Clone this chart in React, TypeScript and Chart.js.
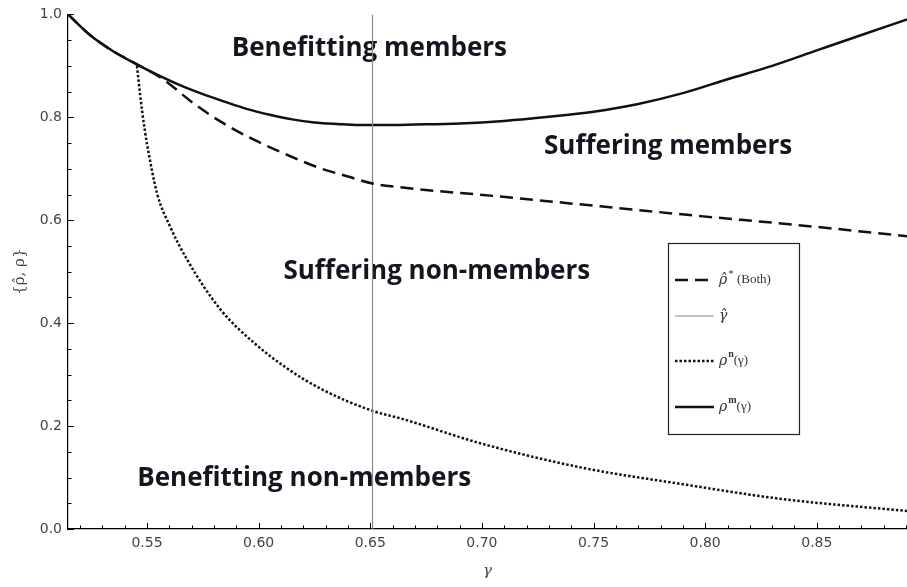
import React, { useEffect, useRef } from "react";
import { Chart, registerables } from "chart.js";

Chart.register(...registerables);

// ---- data ----
const gammaM = [0.5146, 0.525, 0.535, 0.545, 0.555, 0.565, 0.575, 0.585, 0.595, 0.605, 0.615, 0.625, 0.635, 0.645, 0.655, 0.67, 0.69, 0.71, 0.73, 0.75, 0.77, 0.79, 0.81, 0.83, 0.85, 0.87, 0.8904];
const rhoM = [1.0, 0.958, 0.928, 0.904, 0.882, 0.862, 0.845, 0.83, 0.816, 0.805, 0.796, 0.79, 0.787, 0.785, 0.785, 0.786, 0.788, 0.793, 0.801, 0.811, 0.826, 0.847, 0.874, 0.9, 0.93, 0.96, 0.99];

const gammaStar = [0.5146, 0.525, 0.535, 0.545, 0.5572, 0.57, 0.5828, 0.5976, 0.6128, 0.6276, 0.64, 0.6514, 0.6635, 0.7083, 0.753, 0.798, 0.843, 0.8904];
const rhoStar = [1.0, 0.958, 0.928, 0.904, 0.874, 0.83, 0.792, 0.757, 0.727, 0.701, 0.685, 0.671, 0.664, 0.646, 0.627, 0.608, 0.59, 0.569];

const gammaN = [0.5455, 0.5469, 0.5478, 0.549, 0.55, 0.5545, 0.5603, 0.568, 0.5828, 0.5976, 0.6128, 0.6276, 0.6514, 0.6635, 0.6998, 0.745, 0.79, 0.835, 0.8904];
const rhoN = [0.9, 0.844, 0.812, 0.775, 0.748, 0.652, 0.588, 0.523, 0.427, 0.363, 0.312, 0.273, 0.229, 0.215, 0.166, 0.119, 0.087, 0.058, 0.035];

const gammaHat = 0.651;
const gammaHatSpan = [0, 1];

const xRange = [0.5146, 0.8904];
const yRange = [0, 1];
const xTicks = [0.55, 0.6, 0.65, 0.7, 0.75, 0.8, 0.85];
const yTicks = [0, 0.2, 0.4, 0.6, 0.8, 1.0];
const xMinorStep = 0.01;
const yMinorStep = 0.05;

const regionLabels = ["Benefitting members", "Suffering members", "Suffering non-members", "Benefitting non-members"];
const regionAnchors = [
  [0.6496, 0.934],
  [0.7834, 0.743],
  [0.6798, 0.5],
  [0.6204, 0.097],
];

// legend entries: [text, style] parts
const legendParts: [string, string][][] = [
  [["ρ̂", "i"], ["*", "sup"], [" (Both)", "n"]],
  [["γ̂", "i"]],
  [["ρ", "i"], ["n", "supf"], ["(γ)", "n"]],
  [["ρ", "i"], ["m", "supf"], ["(γ)", "n"]],
];

const toXY = (xs: number[], ys: number[]) => xs.map((x, i) => ({ x, y: ys[i] }));

export default function App() {
  const ref = useRef<HTMLCanvasElement | null>(null);

  useEffect(() => {
    const canvas = ref.current;
    if (!canvas) return;

    const inwardTicks = {
      id: "inwardTicks",
      afterDraw(chart: any) {
        const { ctx, chartArea } = chart;
        const xs = chart.scales.x;
        const ys = chart.scales.y;
        ctx.save();
        ctx.strokeStyle = "#000";
        ctx.lineWidth = 1;
        ctx.beginPath();
        const isMajor = (v: number, arr: number[]) => arr.some((t) => Math.abs(t - v) < 1e-6);
        for (let k = Math.ceil(xRange[0] / xMinorStep); k * xMinorStep <= xRange[1] + 1e-9; k++) {
          const v = +(k * xMinorStep).toFixed(4);
          const px = Math.round(xs.getPixelForValue(v)) + 0.5;
          const len = isMajor(v, xTicks) ? 6 : 3.5;
          ctx.moveTo(px, chartArea.bottom);
          ctx.lineTo(px, chartArea.bottom - len);
        }
        for (let k = 0; k * yMinorStep <= yRange[1] + 1e-9; k++) {
          const v = +(k * yMinorStep).toFixed(4);
          const py = Math.round(ys.getPixelForValue(v)) + 0.5;
          const len = isMajor(v, yTicks) ? 6 : 3.5;
          ctx.moveTo(chartArea.left, py);
          ctx.lineTo(chartArea.left + len, py);
        }
        ctx.stroke();
        ctx.restore();
      },
    };

    const regionText = {
      id: "regionText",
      beforeDatasetsDraw(chart: any) {
        const { ctx } = chart;
        const xs = chart.scales.x;
        const ys = chart.scales.y;
        ctx.save();
        ctx.font = "bold 26px 'Open Sans'";
        ctx.fillStyle = "#15151f";
        ctx.textAlign = "center";
        ctx.textBaseline = "middle";
        regionLabels.forEach((t, i) => {
          ctx.fillText(t, xs.getPixelForValue(regionAnchors[i][0]), ys.getPixelForValue(regionAnchors[i][1]));
        });
        ctx.restore();
      },
    };

    const boxLegend = {
      id: "boxLegend",
      afterDraw(chart: any) {
        const { ctx } = chart;
        const bx = 668, by = 243, bw = 131, bh = 191;
        const rows = [37, 73, 118, 164];
        const order = [0, 1, 2, 3];
        ctx.save();
        ctx.fillStyle = "#fff";
        ctx.fillRect(bx, by, bw, bh);
        ctx.strokeStyle = "#222";
        ctx.lineWidth = 1.2;
        ctx.strokeRect(bx + 0.5, by + 0.5, bw, bh);
        rows.forEach((dy, i) => {
          const ds = chart.data.datasets[order[i]];
          const y = by + dy;
          ctx.save();
          ctx.strokeStyle = ds.borderColor;
          ctx.lineWidth = ds.borderWidth;
          ctx.setLineDash(ds.borderDash || []);
          ctx.beginPath();
          ctx.moveTo(bx + 7, y);
          ctx.lineTo(bx + 46, y);
          ctx.stroke();
          ctx.restore();
          let x = bx + 51;
          ctx.fillStyle = "#333";
          ctx.textBaseline = "middle";
          ctx.textAlign = "left";
          legendParts[i].forEach(([txt, st]) => {
            let yy = y;
            if (st === "i") ctx.font = "italic 14px 'DejaVu Serif'";
            else if (st === "sup") { ctx.font = "11px 'Liberation Serif'"; yy = y - 6; }
            else if (st === "supf") { ctx.font = "bold 10px 'Liberation Serif'"; yy = y - 7; }
            else ctx.font = "13px 'Liberation Serif'";
            ctx.fillText(txt, x, yy);
            x += ctx.measureText(txt).width + (st === "i" ? 1 : 0);
          });
        });
        ctx.restore();
      },
    };

    const chart = new Chart(canvas, {
      type: "line",
      data: {
        datasets: [
          {
            label: "ρ̂* (Both)",
            data: toXY(gammaStar, rhoStar),
            borderColor: "#111",
            borderWidth: 2.5,
            borderDash: [13, 7],
            pointRadius: 0,
            cubicInterpolationMode: "monotone",
            fill: false,
          },
          {
            label: "γ̂",
            data: gammaHatSpan.map((y) => ({ x: gammaHat, y })),
            borderColor: "#8a8a8a",
            borderWidth: 1.2,
            pointRadius: 0,
            fill: false,
          },
          {
            label: "ρⁿ(γ)",
            data: toXY(gammaN, rhoN),
            borderColor: "#111",
            borderWidth: 2.5,
            borderDash: [2.5, 2],
            pointRadius: 0,
            cubicInterpolationMode: "monotone",
            fill: false,
          },
          {
            label: "ρᵐ(γ)",
            data: toXY(gammaM, rhoM),
            borderColor: "#111",
            borderWidth: 2.5,
            pointRadius: 0,
            cubicInterpolationMode: "monotone",
            fill: false,
          },
        ],
      },
      options: {
        animation: false,
        responsive: false,
        events: [],
        layout: { padding: { top: 9, right: 0, left: 0, bottom: 0 } },
        plugins: { legend: { display: false }, tooltip: { enabled: false }, title: { display: false } },
        scales: {
          x: {
            type: "linear",
            min: xRange[0],
            max: xRange[1],
            grid: { display: false, drawTicks: false },
            border: { display: true, color: "#000", width: 1.2 },
            afterBuildTicks: (s: any) => { s.ticks = xTicks.map((value) => ({ value })); },
            afterFit: (s: any) => { s.height = 58; },
            ticks: {
              padding: 6,
              color: "#444",
              font: { family: "'DejaVu Sans'", size: 14 },
              callback: (v: any) => Number(v).toFixed(2),
            },
            title: {
              display: true,
              text: "γ",
              color: "#444",
              font: { family: "'DejaVu Serif'", size: 15, style: "italic" },
              padding: { top: 0, bottom: 7 },
            },
          },
          y: {
            type: "linear",
            min: yRange[0],
            max: yRange[1],
            grid: { display: false, drawTicks: false },
            border: { display: true, color: "#000", width: 1.2 },
            afterBuildTicks: (s: any) => { s.ticks = yTicks.map((value) => ({ value })); },
            afterFit: (s: any) => { s.width = 68; },
            ticks: {
              padding: 6,
              color: "#444",
              font: { family: "'DejaVu Sans'", size: 14 },
              callback: (v: any) => Number(v).toFixed(1),
            },
            title: {
              display: true,
              text: "{ρ̂, ρ}",
              color: "#444",
              font: { family: "'DejaVu Serif'", size: 15 },
              padding: { top: 11, bottom: 0 },
            },
          },
        },
      },
      plugins: [regionText, inwardTicks, boxLegend],
    } as any);

    return () => chart.destroy();
  }, []);

  return (
    <div style={{ position: "fixed", left: 0, top: 0, width: 907, height: 587, background: "#fff" }}>
      <canvas ref={ref} width={907} height={587} style={{ display: "block" }} />
    </div>
  );
}
